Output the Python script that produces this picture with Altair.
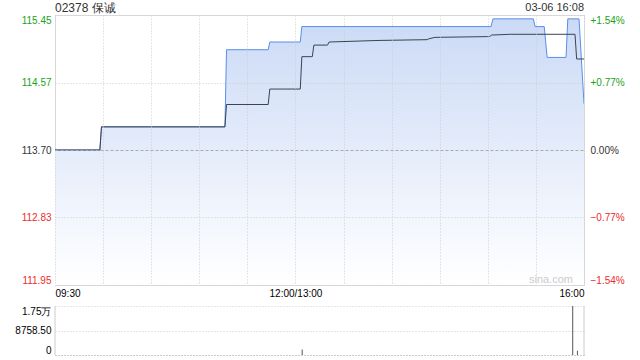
import altair as alt
import pandas as pd

# ---- data ----
# trading minutes from 09:30 (lunch break removed; 150 = 12:00/13:00, 330 = 16:00)
price_min = [0, 28, 29, 106, 107, 133, 134, 153, 154, 272, 273.2, 298.4, 299.5, 305.2, 307, 318.8, 319.9, 326.9, 330]
price_val = [113.70, 113.70, 114.00, 114.00, 115.00, 115.00, 115.10, 115.10, 115.30, 115.30, 115.40, 115.40, 115.30, 115.30, 114.90, 114.90, 115.40, 115.40, 114.30]

avg_min = [0, 28, 29, 106, 107, 133, 134, 153, 154, 160.5, 161.5, 170, 171, 201.5, 232, 233, 237, 270, 271, 272.4, 284, 324.4, 325.4, 330]
avg_val = [113.70, 113.70, 114.00, 114.00, 114.29, 114.29, 114.49, 114.49, 114.91, 114.91, 115.06, 115.06, 115.10, 115.12, 115.13, 115.14, 115.16, 115.17, 115.17, 115.19, 115.20, 115.20, 114.88, 114.88]

vol_min = [154, 326, 329]
vol_val = [2000, 17517, 1500]

prev_close = 113.70
price_ticks = [111.95, 112.83, 113.70, 114.57, 115.45]
pct_ticks = [-1.54, -0.77, 0.0, 0.77, 1.54]
time_grid = [0, 30, 60, 90, 120, 150, 180, 210, 240, 270, 300, 330]
vol_ticks = [0, 8758.5, 17517]

title_text = "02378 保诚"
date_text = "03-06 16:08"
watermark = "sina.com"

price_df = pd.DataFrame({"m": price_min, "price": price_val})
avg_df = pd.DataFrame({"m": avg_min, "avg": avg_val})
vol_df = pd.DataFrame({"m": vol_min, "vol": vol_val})

GREEN = "#1aa31a"
RED = "#ee2b2b"
W, H = 529, 270

x_scale = alt.Scale(domain=[0, 330], nice=False, zero=False)
x_axis = alt.Axis(
    values=time_grid,
    labelExpr="datum.value == 0 ? '09:30' : datum.value == 150 ? '12:00/13:00' : datum.value == 330 ? '16:00' : ''",
    labelFlush=True, ticks=False, domain=False, grid=True, zindex=1,
    gridColor="#cccccc", gridDash=[1, 2], labelPadding=3, title=None,
)
x_enc = alt.X("m:Q", scale=x_scale, axis=x_axis)

y_scale = alt.Scale(domain=[111.95, 115.45], nice=False, zero=False)
y_axis = alt.Axis(
    values=price_ticks, labelFlush=True, ticks=False, domain=False, title=None,
    labelPadding=4, grid=True, zindex=1,
    gridColor={"condition": {"test": "abs(datum.value - 113.70) < 0.001", "value": "#aaaaaa"}, "value": "#cccccc"},
    gridDash={"condition": {"test": "abs(datum.value - 113.70) < 0.001", "value": [3, 2]}, "value": [1, 2]},
    labelColor={"condition": [
        {"test": "datum.value > 113.71", "value": GREEN},
        {"test": "datum.value < 113.69", "value": RED}], "value": "#333333"},
    format=".2f",
)

gradient = alt.LinearGradient(
    gradient="linear", x1=0, x2=0, y1=1, y2=0,
    stops=[alt.GradientStop(offset=0, color="#ffffff"),
           alt.GradientStop(offset=1, color="#cbdaf6")],
)

area = alt.Chart(price_df).mark_area(interpolate="linear", fill=gradient, opacity=1, clip=True).encode(
    x=x_enc, y=alt.Y("price:Q", scale=y_scale, axis=y_axis), y2=alt.datum(111.95)
)
line = alt.Chart(price_df).mark_line(color="#5a8ee8", strokeWidth=1, clip=True).encode(
    x=x_enc, y=alt.Y("price:Q", scale=y_scale, axis=y_axis)
)
avg = alt.Chart(avg_df).mark_line(color="#3c4350", strokeWidth=1, clip=True).encode(
    x=x_enc, y=alt.Y("avg:Q", scale=y_scale, axis=y_axis)
)

pct_layer = alt.Chart(price_df).transform_calculate(
    pct=f"(datum.price - {prev_close}) / {prev_close} * 100"
).mark_line(opacity=0).encode(
    x=x_enc,
    y=alt.Y("pct:Q", scale=alt.Scale(domain=[-1.54, 1.54], nice=False, zero=False),
            axis=alt.Axis(
                orient="right", values=pct_ticks, labelFlush=True, ticks=False, domain=False,
                grid=False, title=None, labelPadding=6,
                labelExpr="datum.value > 0.001 ? '+' + format(datum.value, '.2f') + '%' : format(datum.value, '.2f') + '%'",
                labelColor={"condition": [
                    {"test": "datum.value > 0.001", "value": GREEN},
                    {"test": "datum.value < -0.001", "value": RED}], "value": "#333333"},
            )),
)

title_mark = alt.Chart(pd.DataFrame({"t": [title_text]})).mark_text(
    align="left", baseline="middle", fontSize=12, font="Liberation Sans", color="#333333"
).encode(text="t:N", x=alt.value(0), y=alt.value(-7))
date_mark = alt.Chart(pd.DataFrame({"t": [date_text]})).mark_text(
    align="right", baseline="middle", fontSize=11, font="Liberation Sans", color="#333333"
).encode(text="t:N", x=alt.value(W), y=alt.value(-7))
wm_mark = alt.Chart(pd.DataFrame({"t": [watermark]})).mark_text(
    align="right", baseline="middle", fontSize=11, font="Liberation Sans", color="#cccccc"
).encode(text="t:N", x=alt.value(518), y=alt.value(265))

main = alt.layer(
    alt.layer(area, line, avg, title_mark, date_mark, wm_mark),
    pct_layer,
).resolve_scale(y="independent").properties(width=W, height=H)

vol_bars = alt.Chart(vol_df).mark_bar(color="#555555", width=1).encode(
    x=alt.X("m:Q", scale=x_scale, axis=None),
    y=alt.Y("vol:Q", scale=alt.Scale(domain=[0, 17517], nice=False),
            axis=alt.Axis(
                values=vol_ticks, labelFlush=True, ticks=False, domain=False, title=None,
                labelPadding=4, grid=True, gridDash=[1, 2],
                gridColor={"condition": {"test": "datum.value == 0", "value": "#999999"}, "value": "#cccccc"},
                labelExpr="datum.value >= 10000 ? format(datum.value / 10000, '.2f') + '万' : datum.value == 0 ? '0' : format(datum.value, '.2f')",
            )),
)
side_l = alt.Chart(pd.DataFrame({"k": [0]})).mark_rule(color="#cccccc").encode(
    x=alt.value(0), y=alt.value(0), y2=alt.value(49))
side_r = alt.Chart(pd.DataFrame({"k": [0]})).mark_rule(color="#cccccc").encode(
    x=alt.value(W), y=alt.value(0), y2=alt.value(49))

volume = alt.layer(vol_bars, side_l, side_r).properties(
    width=W, height=49, view=alt.ViewBackground(stroke=None)
)

chart = alt.vconcat(main, volume, spacing=6).properties(
    padding={"left": 14, "top": 1, "right": 5, "bottom": 5}
).configure_view(stroke="#cccccc").configure_axis(
    labelFont="Liberation Sans", labelFontSize=11, labelColor="#333333"
).configure(background="white")

chart.save("out.html", embed_options={"renderer": "svg", "actions": False})
